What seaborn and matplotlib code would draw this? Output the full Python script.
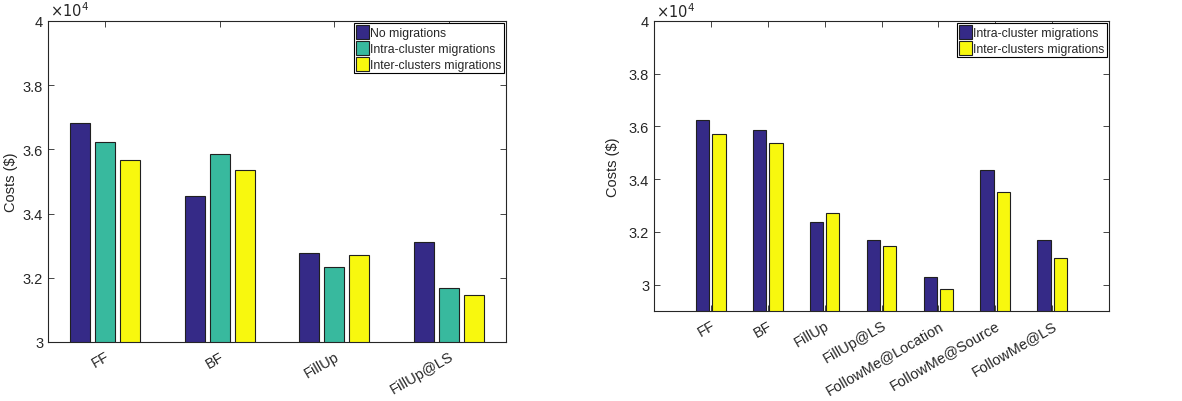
import numpy as np
import pandas as pd
import matplotlib
matplotlib.use("Agg")
import matplotlib.pyplot as plt
from matplotlib.ticker import FuncFormatter, MultipleLocator
import seaborn as sns

# left panel
algos_left = ["FF", "BF", "FillUp", "FillUp@LS"]
no_mig = [36820, 34540, 32760, 33120]
intra_left = [36220, 35850, 32350, 31680]
inter_left = [35670, 35350, 32700, 31460]

# right panel
algos_right = ["FF", "BF", "FillUp", "FillUp@LS", "FollowMe@Location",
               "FollowMe@Source", "FollowMe@LS"]
intra_right = [36230, 35850, 32370, 31710, 30280, 34350, 31710]
inter_right = [35700, 35370, 32710, 31470, 29850, 33510, 31000]

series_left = ["No migrations", "Intra-cluster migrations", "Inter-clusters migrations"]
series_right = ["Intra-cluster migrations", "Inter-clusters migrations"]

blue = "#352a87"
teal = "#38b99e"
yellow = "#f8f80e"

sns.set_style("ticks")
plt.rcParams["font.family"] = ["Liberation Sans", "DejaVu Sans"]
plt.rcParams["axes.edgecolor"] = "#262626"
plt.rcParams["xtick.color"] = "#262626"
plt.rcParams["ytick.color"] = "#262626"

df_left = pd.DataFrame({
    "algo": algos_left * 3,
    "series": [s for s in series_left for _ in algos_left],
    "cost": no_mig + intra_left + inter_left,
})
df_right = pd.DataFrame({
    "algo": algos_right * 2,
    "series": [s for s in series_right for _ in algos_right],
    "cost": intra_right + inter_right,
})

fig = plt.figure(figsize=(11.82, 4.02), dpi=100)
ax1 = fig.add_axes([0.0406, 0.1468, 0.3875, 0.7985])
ax2 = fig.add_axes([0.5533, 0.224, 0.3850, 0.7213])

sns.barplot(data=df_left, x="algo", y="cost", hue="series", ax=ax1,
            palette=[blue, teal, yellow], width=0.655, gap=0.2, saturation=1,
            edgecolor="#202020", linewidth=0.8, errorbar=None)
sns.barplot(data=df_right, x="algo", y="cost", hue="series", ax=ax2,
            palette=[blue, yellow], width=0.574, gap=0.185, saturation=1,
            edgecolor="#202020", linewidth=0.8, errorbar=None)

def style(ax, ylo, xlim):
    ax.set_ylim(ylo, 40000)
    ax.set_xlim(*xlim)
    ax.yaxis.set_major_locator(MultipleLocator(2000))
    ax.yaxis.set_major_formatter(FuncFormatter(lambda v, p: f"{v / 1e4:g}"))
    ax.set_xlabel("")
    ax.set_ylabel("Costs ($)", fontsize=10.5)
    ax.tick_params(direction="in", top=True, right=True, length=4, width=0.6,
                   labelsize=10.5)
    ax.tick_params(axis="x", pad=5)
    for s in ax.spines.values():
        s.set_linewidth(0.8)
        s.set_visible(True)
    for lab in ax.get_xticklabels():
        lab.set_rotation(30)
        lab.set_ha("right")
        lab.set_rotation_mode("anchor")
    ax.text(0.005, 1.005, r"$\times10^4$", transform=ax.transAxes,
            fontsize=10.5, color="#262626", va="bottom", ha="left")
    leg = ax.legend(loc="upper right", fontsize=8.8, frameon=True, fancybox=False,
                    framealpha=1, edgecolor="black", borderpad=0.15,
                    handlelength=1.1, handleheight=1.35, handletextpad=0.1,
                    labelspacing=0.15, borderaxespad=0.2)
    leg.get_frame().set_linewidth(0.8)

style(ax1, 30000, (-0.5, 3.5))
style(ax2, 29000, (-1, 7))
ax1.yaxis.set_label_coords(-0.065, 0.5)
ax2.yaxis.set_label_coords(-0.075, 0.5)

fig.savefig("out.png", dpi=100)
